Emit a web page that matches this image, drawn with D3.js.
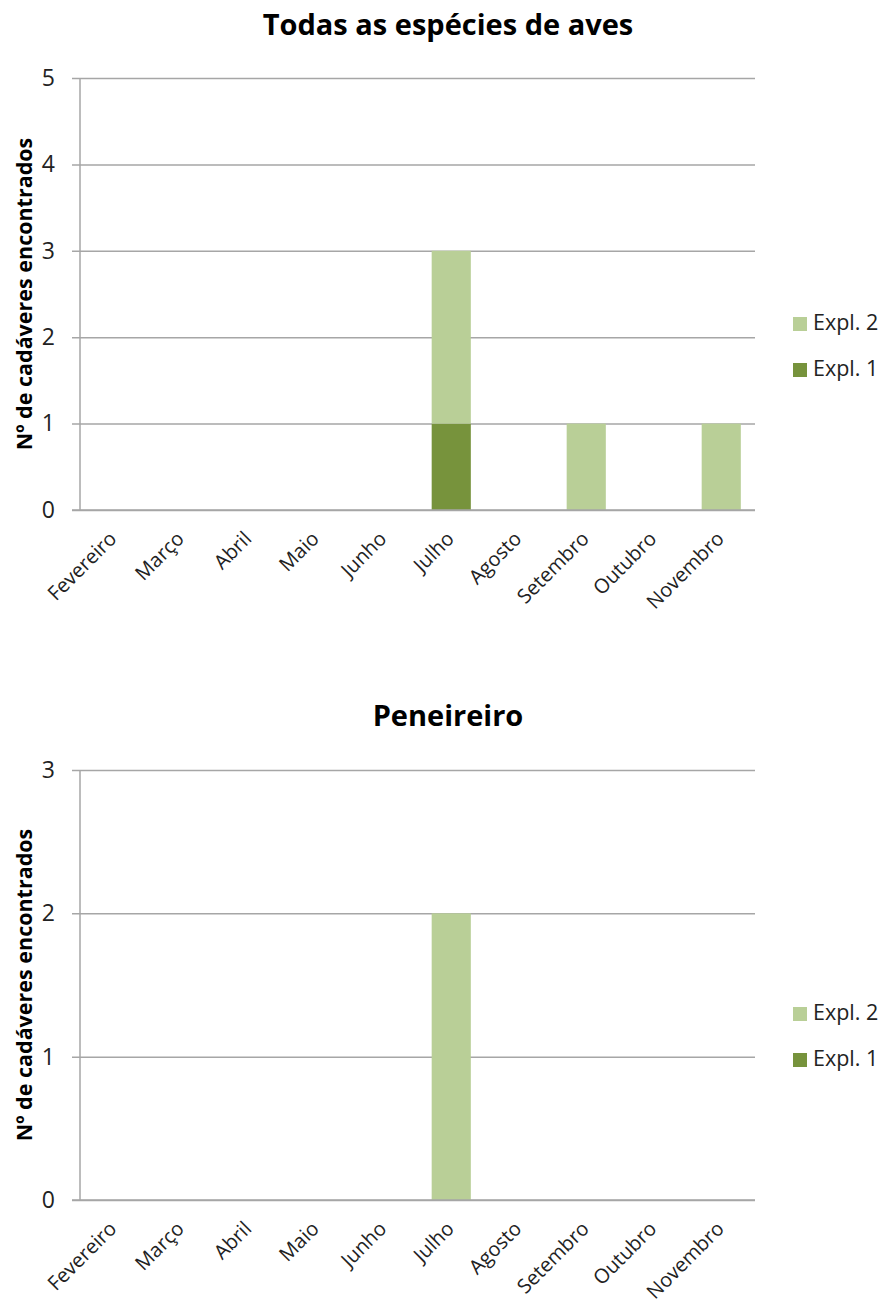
<!DOCTYPE html>
<html><head><meta charset="utf-8">
<script src="https://cdn.jsdelivr.net/npm/d3@7"></script>
<style>body{margin:0;background:#fff}svg{display:block}</style>
</head><body>
<script>
const months = ["Fevereiro","Março","Abril","Maio","Junho","Julho","Agosto","Setembro","Outubro","Novembro"];
const seriesNames = ["Expl. 1","Expl. 2"];
const allExpl1 = [0,0,0,0,0,1,0,0,0,0];
const allExpl2 = [0,0,0,0,0,2,0,1,0,1];
const penExpl1 = [0,0,0,0,0,0,0,0,0,0];
const penExpl2 = [0,0,0,0,0,2,0,0,0,0];
const allTicks = [0,1,2,3,4,5];
const penTicks = [0,1,2,3];
const colors = {"Expl. 1":"#77933c","Expl. 2":"#b9cf97"};

const W = 883, H = 1309;
const svg = d3.select("body").append("svg").attr("width",W).attr("height",H);
const FONT = "'Open Sans', 'Liberation Sans', sans-serif";

function chart(opts){
  const {title, titleY, top, bottom, yMax, ticks, e1, e2, legendY} = opts;
  const left = 80, right = 755;
  const g = svg.append("g");
  const x = d3.scaleBand().domain(months).range([left,right]).paddingInner(0.42).paddingOuter(0.21);
  const y = d3.scaleLinear().domain([0,yMax]).range([bottom,top]);
  const data = months.map((m,i)=>({month:m,"Expl. 1":e1[i],"Expl. 2":e2[i]}));
  const stacked = d3.stack().keys(seriesNames)(data);

  g.append("text").attr("x",448).attr("y",titleY).attr("text-anchor","middle")
    .attr("font-family",FONT).attr("font-weight","bold").attr("font-size",29).attr("fill","#000").text(title);

  const yAxis = d3.axisLeft(y).tickValues(ticks).tickSize(-(right-left)).tickFormat(d3.format("d")).tickPadding(25);
  const ya = g.append("g").attr("transform",`translate(${left},0)`).call(yAxis);
  ya.select(".domain").remove();
  ya.selectAll(".tick line").attr("stroke","#a6a6a6").attr("stroke-width",1.5).attr("x1",-8);
  ya.selectAll(".tick text").attr("font-family",FONT).attr("font-size",23).attr("fill","#222");
  g.append("line").attr("x1",left).attr("x2",left).attr("y1",y(yMax)).attr("y2",y(0)).attr("stroke","#a6a6a6").attr("stroke-width",1.5);

  g.selectAll(".layer").data(stacked).join("g").attr("fill",d=>colors[d.key])
    .selectAll("rect").data(d=>d).join("rect")
    .attr("x",d=>x(d.data.month)).attr("width",x.bandwidth())
    .attr("y",d=>y(d[1])).attr("height",d=>y(d[0])-y(d[1]));

  g.append("line").attr("x1",left-8).attr("x2",right).attr("y1",y(0)).attr("y2",y(0)).attr("stroke","#a6a6a6").attr("stroke-width",1.5);

  g.selectAll(".xl").data(months).join("text")
    .attr("transform",d=>`translate(${x(d)+x.bandwidth()/2+4},${bottom+30}) rotate(-45)`)
    .attr("text-anchor","end").attr("font-family",FONT).attr("font-size",20)
    .attr("fill","#222").text(d=>d);

  g.append("text").attr("transform",`translate(32,${(top+bottom)/2}) rotate(-90)`)
    .attr("text-anchor","middle").attr("font-family",FONT).attr("font-weight","bold").attr("font-size",21.5)
    .attr("fill","#000").text("Nº de cadáveres encontrados");

  const legendItems = ["Expl. 2","Expl. 1"];
  legendItems.forEach((k,i)=>{
    const ly = legendY + i*46;
    g.append("rect").attr("x",793).attr("y",ly).attr("width",14).attr("height",14).attr("fill",colors[k]);
    g.append("text").attr("x",813).attr("y",ly+13).attr("font-family",FONT).attr("font-size",21.5).attr("fill","#222").text(k);
  });
}

chart({title:"Todas as espécies de aves", titleY:35, top:78, bottom:510, yMax:5, ticks:allTicks, e1:allExpl1, e2:allExpl2, legendY:317});
chart({title:"Peneireiro", titleY:726, top:770, bottom:1200, yMax:3, ticks:penTicks, e1:penExpl1, e2:penExpl2, legendY:1007});
</script>
</body></html>
